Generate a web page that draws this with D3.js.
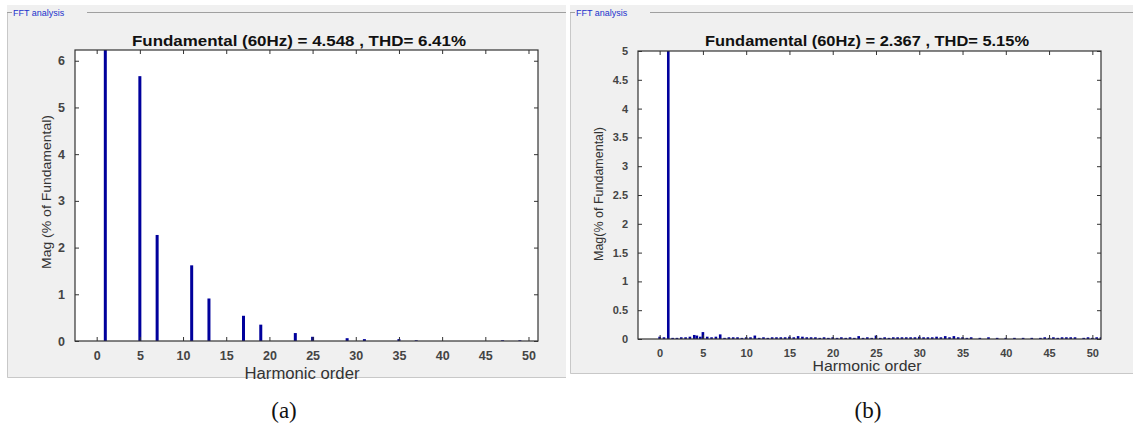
<!DOCTYPE html>
<html><head><meta charset="utf-8">
<script src="https://cdn.jsdelivr.net/npm/d3@7"></script>
<style>body{margin:0;background:#fff}svg{display:block}</style>
</head><body>
<script>
// ---- Data ----
const titleA = "Fundamental (60Hz) = 4.548 , THD= 6.41%";
const titleB = "Fundamental (60Hz) = 2.367 , THD= 5.15%";
const ordersA = [1, 5, 7, 11, 13, 17, 19, 23, 25, 29, 31, 35, 37, 47, 49];
const magsA   = [100, 5.67, 2.27, 1.62, 0.91, 0.54, 0.35, 0.17, 0.09, 0.06, 0.04, 0.04, 0.015, 0.015, 0.015];
const ordersB = [0, 0.5, 1, 1.5, 2, 2.5, 3, 3.5, 4, 4.3, 4.7, 5, 5.5, 6, 6.5, 7, 7.5, 8, 8.5, 9, 9.5, 10, 10.5, 11, 11.5, 12, 12.5, 13, 13.5, 14, 14.5, 15, 15.5, 16, 16.5, 17, 17.5, 18, 18.5, 19, 19.5, 20, 20.5, 21, 21.5, 22, 22.5, 23, 23.5, 24, 24.5, 25, 25.5, 26, 26.5, 27, 27.5, 28, 28.5, 29, 29.5, 30, 30.5, 31, 31.5, 32, 32.5, 33, 33.5, 34, 34.5, 35, 35.5, 36, 37, 38, 39, 40, 41, 42, 43, 44, 44.5, 45, 45.5, 46, 46.5, 47, 47.5, 48, 49, 49.5, 50, 50.5, 51];
const magsB   = [0.04, 0.03, 100, 0.02, 0.02, 0.03, 0.03, 0.04, 0.07, 0.06, 0.04, 0.12, 0.04, 0.03, 0.04, 0.08, 0.02, 0.03, 0.03, 0.03, 0.02, 0.03, 0.03, 0.06, 0.02, 0.03, 0.02, 0.03, 0.03, 0.03, 0.03, 0.04, 0.03, 0.05, 0.04, 0.03, 0.03, 0.03, 0.02, 0.03, 0.02, 0.03, 0.02, 0.03, 0.02, 0.03, 0.02, 0.05, 0.02, 0.03, 0.02, 0.06, 0.02, 0.03, 0.02, 0.03, 0.03, 0.03, 0.03, 0.03, 0.03, 0.04, 0.03, 0.03, 0.03, 0.04, 0.03, 0.05, 0.03, 0.05, 0.03, 0.03, 0.02, 0.03, 0.02, 0.03, 0.02, 0.02, 0.02, 0.02, 0.02, 0.02, 0.03, 0.02, 0.03, 0.02, 0.03, 0.03, 0.03, 0.03, 0.02, 0.03, 0.02, 0.03, 0.03, 0.03];
const xTicks = [0, 5, 10, 15, 20, 25, 30, 35, 40, 45, 50];
const yTicksA = [0, 1, 2, 3, 4, 5, 6];
const yTicksB = [0, 0.5, 1, 1.5, 2, 2.5, 3, 3.5, 4, 4.5, 5];
const panelLabels = ["(a)", "(b)"];
const frameTitle = "FFT analysis";
const xLabel = "Harmonic order";
const yLabelA = "Mag (% of Fundamental)";
const yLabelB = "Mag(% of Fundamental)";

const W = 1133, H = 426;
const svg = d3.select("body").append("svg").attr("width", W).attr("height", H);

function panel(cfg) {
  const g = svg.append("g");
  g.append("rect").attr("x", cfg.px).attr("y", 5).attr("width", cfg.pw).attr("height", cfg.ph)
    .attr("fill", "#f0f0f0");
  g.append("path").attr("d", `M${cfg.px + 0.5},12 V${5 + cfg.ph - 0.5} H${cfg.px + cfg.pw}`)
    .attr("fill", "none").attr("stroke", "#c8c8c8");
  g.append("line").attr("x1", cfg.px).attr("x2", cfg.px + 5).attr("y1", 12.5).attr("y2", 12.5).attr("stroke", "#a0a0a0");
  g.append("line").attr("x1", cfg.px + 80).attr("x2", cfg.px + cfg.pw).attr("y1", 12.5).attr("y2", 12.5).attr("stroke", "#a0a0a0");
  g.append("text").attr("x", cfg.px + 6).attr("y", 15.5).text(frameTitle)
    .attr("font-family", "Liberation Sans, Arial, sans-serif").attr("font-size", 9).attr("fill", "#2233cc");

  const x = d3.scaleLinear().domain(cfg.xd).range([cfg.l, cfg.r]);
  const y = d3.scaleLinear().domain([0, cfg.ymax]).range([cfg.b, cfg.t]);

  g.append("rect").attr("x", cfg.l).attr("y", cfg.t).attr("width", cfg.r - cfg.l).attr("height", cfg.b - cfg.t).attr("fill", "#fff");

  const clipId = "clip" + cfg.id;
  svg.append("clipPath").attr("id", clipId).append("rect")
    .attr("x", cfg.l).attr("y", cfg.t).attr("width", cfg.r - cfg.l).attr("height", cfg.b - cfg.t);

  const bw = cfg.bw;
  g.append("g").attr("clip-path", `url(#${clipId})`).selectAll("rect")
    .data(cfg.orders.map((o, i) => ({o, v: cfg.mags[i]})))
    .join("rect")
    .attr("x", d => x(d.o) - bw / 2).attr("width", bw)
    .attr("y", d => y(d.v)).attr("height", d => Math.max(0, y(0) - y(d.v)))
    .attr("fill", "#00009c");

  const tickFont = "Liberation Sans, Arial, sans-serif";
  const xa = g.append("g").attr("transform", `translate(0,${cfg.b})`)
    .call(d3.axisBottom(x).tickValues(xTicks).tickSizeInner(-4).tickSizeOuter(0).tickPadding(10));
  const xt = g.append("g").attr("transform", `translate(0,${cfg.t})`)
    .call(d3.axisTop(x).tickValues(xTicks).tickSizeInner(-4).tickSizeOuter(0).tickFormat(""));
  const ya = g.append("g").attr("transform", `translate(${cfg.l},0)`)
    .call(d3.axisLeft(y).tickValues(cfg.yTicks).tickSizeInner(-4).tickSizeOuter(0).tickPadding(10).tickFormat(d => String(d)));
  const yr = g.append("g").attr("transform", `translate(${cfg.r},0)`)
    .call(d3.axisRight(y).tickValues(cfg.yTicks).tickSizeInner(-4).tickSizeOuter(0).tickFormat(""));
  [xa, xt, ya, yr].forEach(a => {
    a.select(".domain").remove();
    a.selectAll(".tick line").attr("stroke", "#333");
    a.selectAll("text").attr("font-family", tickFont).attr("font-size", cfg.tfs).attr("font-weight", "bold").attr("fill", "#444");
  });
  g.append("rect").attr("x", cfg.l).attr("y", cfg.t).attr("width", cfg.r - cfg.l).attr("height", cfg.b - cfg.t)
    .attr("fill", "none").attr("stroke", "#333").attr("stroke-width", 1.2);

  g.append("text").attr("x", cfg.tx).attr("y", cfg.ty).attr("text-anchor", "middle")
    .attr("font-family", tickFont).attr("font-weight", "bold").attr("font-size", cfg.titfs)
    .attr("textLength", cfg.titlen).attr("lengthAdjust", "spacingAndGlyphs")
    .attr("fill", "#111").text(cfg.title);
  g.append("text").attr("x", cfg.xlx).attr("y", cfg.xly).attr("text-anchor", "middle")
    .attr("font-family", tickFont).attr("font-size", cfg.lfs)
    .attr("textLength", cfg.xllen).attr("lengthAdjust", "spacingAndGlyphs")
    .attr("fill", "#333").text(xLabel);
  g.append("text").attr("transform", `translate(${cfg.ylx},${cfg.yly}) rotate(-90)`).attr("text-anchor", "middle")
    .attr("font-family", tickFont).attr("font-size", cfg.ylfs)
    .attr("textLength", cfg.yllen).attr("lengthAdjust", "spacingAndGlyphs")
    .attr("fill", "#333").text(cfg.ylabel);
  g.append("text").attr("x", cfg.capx).attr("y", 418).attr("text-anchor", "middle")
    .attr("font-family", "Liberation Serif, Times New Roman, serif").attr("font-size", 23).attr("fill", "#111").text(cfg.cap);
}

panel({id: "a", px: 7, pw: 559, ph: 373, l: 75, r: 538, t: 50, b: 341, xd: [-2.51, 51.1], ymax: 6.23,
  orders: ordersA, mags: magsA, bw: 3, yTicks: yTicksA, tfs: 12.5, title: titleA, tx: 299, ty: 46, titfs: 15.5, titlen: 334,
  xlx: 302, xly: 379, lfs: 16, xllen: 115, ylx: 51, yly: 192, ylfs: 13.5, yllen: 154, ylabel: yLabelA, capx: 284, cap: panelLabels[0]});
panel({id: "b", px: 570, pw: 563, ph: 369, l: 638, r: 1101, t: 51, b: 339, xd: [-2.5, 51], ymax: 5,
  orders: ordersB, mags: magsB, bw: 2.6, yTicks: yTicksB, tfs: 11, title: titleB, tx: 867, ty: 46, titfs: 14.5, titlen: 324,
  xlx: 867, xly: 371, lfs: 15, xllen: 109, ylx: 603, yly: 194, ylfs: 12.5, yllen: 134, ylabel: yLabelB, capx: 868, cap: panelLabels[1]});
</script>
</body></html>
